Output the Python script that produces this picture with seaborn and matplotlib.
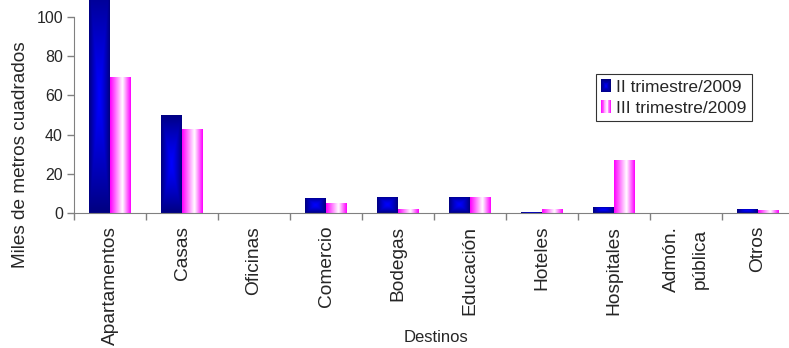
import numpy as np
import pandas as pd
import matplotlib
matplotlib.use("Agg")
import matplotlib.pyplot as plt
import seaborn as sns
from matplotlib.patches import Rectangle
from matplotlib.legend_handler import HandlerBase
from matplotlib.colors import to_rgb

categories = ["Apartamentos", "Casas", "Oficinas", "Comercio", "Bodegas",
              "Educación", "Hoteles", "Hospitales", "Admón.\npública", "Otros"]
series_names = ["II trimestre/2009", "III trimestre/2009"]
ii_trim = [118.0, 50.0, 0.0, 7.8, 8.3, 8.3, 0.7, 3.3, 0.0, 2.3]
iii_trim = [69.5, 43.0, 0.0, 5.2, 2.2, 8.3, 2.2, 27.3, 0.0, 1.7]
y_ticks = [0, 20, 40, 60, 80, 100]

df = pd.DataFrame({
    "Destinos": categories * 2,
    "valor": ii_trim + iii_trim,
    "serie": [series_names[0]] * len(categories) + [series_names[1]] * len(categories),
})

sns.set_style("white")
plt.rcParams["font.family"] = ["Liberation Sans", "DejaVu Sans"]

W, H = 789, 348
fig = plt.figure(figsize=(W / 100, H / 100), dpi=100)
ax_left, ax_right = 74, 794
ax_top, ax_bot = 0, 213.3
AXW, AXH = ax_right - ax_left, ax_bot - ax_top
ax = fig.add_axes([ax_left / W, 1 - ax_bot / H, AXW / W, AXH / H])

sns.barplot(data=df, x="Destinos", y="valor", hue="serie", order=categories,
            hue_order=series_names, palette=["#0000FF", "#FF00FF"],
            width=0.58, ax=ax, legend=False, linewidth=0, saturation=1)

YMAX = 108.5
ax.set_ylim(0, YMAX)
ax.set_xlim(-0.5, len(categories) - 0.5)

navy = np.array(to_rgb("#000080"))
blue = np.array(to_rgb("#0000FF"))
mag = np.array(to_rgb("#FF00FF"))
white = np.array([1.0, 1.0, 1.0])


def blue_grad(nx=40, ny=200):
    u = np.abs(np.linspace(-1, 1, nx))[None, :]
    v = np.abs(np.linspace(-1, 1, ny))[:, None]
    t = np.maximum(u, v)
    t = t ** 1.3
    return blue[None, None, :] * (1 - t[..., None]) + navy[None, None, :] * t[..., None]


def pink_grad(nx=40):
    x = np.linspace(0, 1, nx)
    t = np.where(x < 0.6, x / 0.6, (1 - x) / 0.4)
    t = np.clip(t, 0, 1)
    row = mag[None, :] * (1 - t[:, None]) + white[None, :] * t[:, None]
    return row[None, :, :]


n = len(categories)
for i, patch in enumerate(ax.patches):
    h = patch.get_height()
    if h <= 0:
        patch.set_visible(False)
        continue
    x0 = patch.get_x()
    w = patch.get_width()
    img = blue_grad() if i < n else pink_grad()
    im = ax.imshow(img, extent=[x0, x0 + w, 0, h], aspect="auto",
                   origin="lower", interpolation="bilinear", zorder=2)
    im.set_clip_path(patch)
    patch.set_facecolor("none")

ax.set_xlim(-0.5, len(categories) - 0.5)
ax.set_ylim(0, YMAX)

axis_col = "#808080"
for s in ["top", "right"]:
    ax.spines[s].set_visible(False)
ax.spines["left"].set_color(axis_col)
ax.spines["bottom"].set_color(axis_col)
ax.spines["left"].set_bounds(0, 100)

ax.set_yticks(y_ticks)
ax.set_yticklabels([str(v) for v in y_ticks], fontsize=11.5)
ax.tick_params(axis="y", direction="out", length=5, color=axis_col, width=1, pad=3, left=True)

ax.set_xticks(np.arange(-0.5, n, 1.0))
ax.set_xticklabels([""] * (n + 1))
ax.set_xticks(np.arange(n), minor=True)
ax.set_xticklabels(categories, minor=True, rotation=90, fontsize=13.8,
                   va="top", ha="center", linespacing=1.9)
ax.tick_params(axis="x", which="major", direction="out", length=5, color=axis_col, width=1, bottom=True)
ax.tick_params(axis="x", which="minor", length=0, pad=9)

ax.set_ylabel("Miles de metros cuadrados", fontsize=13.7, va="center")
ax.yaxis.set_label_coords(-(ax_left - 21) / AXW, 1 - (155 - ax_top) / AXH)
ax.set_xlabel("Destinos", fontsize=12, va="center")
ax.xaxis.set_label_coords(((436 - ax_left) / AXW), -(338 - ax_bot) / AXH)


class GradHandler(HandlerBase):
    def __init__(self, kind):
        super().__init__()
        self.kind = kind

    def create_artists(self, legend, orig_handle, xdescent, ydescent, width, height, fontsize, trans):
        arts = []
        if self.kind == "blue":
            steps = 8
            for k in range(steps):
                f = k / steps
                c = navy * (1 - f) + blue * f
                dx = width * f / 2
                dy = height * f / 2
                arts.append(Rectangle((-xdescent + dx, -ydescent + dy), width - 2 * dx, height - 2 * dy,
                                      facecolor=c, edgecolor="none", transform=trans))
        else:
            steps = 12
            for k in range(steps):
                xm = (k + 0.5) / steps
                t = xm / 0.6 if xm < 0.6 else (1 - xm) / 0.4
                t = min(max(t, 0), 1)
                c = mag * (1 - t) + white * t
                arts.append(Rectangle((-xdescent + width * k / steps, -ydescent), width / steps + 0.01, height,
                                      facecolor=c, edgecolor="none", transform=trans))
        return arts


h1 = Rectangle((0, 0), 1, 1)
h2 = Rectangle((0, 0), 1, 1)
leg = ax.legend([h1, h2], series_names, loc="upper left",
                bbox_to_anchor=((596 - ax_left) / AXW, 1 - 74 / AXH),
                handler_map={h1: GradHandler("blue"), h2: GradHandler("pink")},
                fontsize=12.5, frameon=True, fancybox=False, edgecolor="black",
                handlelength=0.55, handleheight=0.8, handletextpad=0.3,
                borderpad=0.3, labelspacing=0.3, borderaxespad=0)
leg.get_frame().set_linewidth(0.8)

fig.savefig("out.png", dpi=100)
